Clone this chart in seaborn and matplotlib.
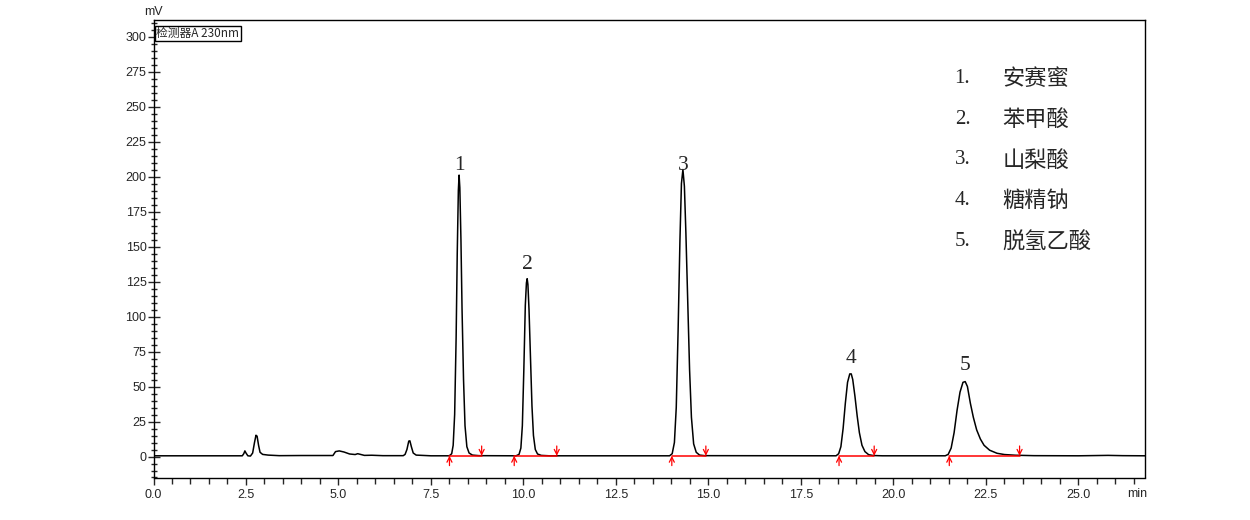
import numpy as np
import pandas as pd
import seaborn as sns
import matplotlib.pyplot as plt
from matplotlib.ticker import MultipleLocator, FormatStrFormatter

# chromatogram trace (time in min, signal in mV)
times = [0.0, 2.40, 2.44, 2.47, 2.50, 2.55, 2.62, 2.68, 2.73, 2.77, 2.80, 2.84, 2.88, 2.95, 3.1, 3.4,
         4.0, 4.85, 4.92, 5.02, 5.15, 5.30, 5.45, 5.52, 5.60, 5.70, 5.9, 6.2, 6.75,
         6.80, 6.85, 6.90, 6.93, 6.97, 7.02, 7.10, 7.5, 7.95,
         8.00, 8.06, 8.10, 8.14, 8.18, 8.21, 8.24, 8.26, 8.28, 8.31, 8.34, 8.38, 8.42, 8.47, 8.53, 8.62, 8.8,
         9.80, 9.88, 9.93, 9.97, 10.01, 10.05, 10.08, 10.10, 10.12, 10.15, 10.19, 10.23, 10.27, 10.32, 10.38, 10.48, 10.7,
         13.95, 14.02, 14.08, 14.13, 14.18, 14.23, 14.27, 14.31, 14.35, 14.39, 14.44, 14.49, 14.54, 14.60, 14.67, 14.76, 14.9,
         18.45, 18.52, 18.58, 18.64, 18.70, 18.76, 18.82, 18.86, 18.90, 18.96, 19.02, 19.08, 19.15, 19.23, 19.33, 19.45, 19.7,
         21.40, 21.48, 21.56, 21.64, 21.72, 21.80, 21.88, 21.94, 22.00, 22.08, 22.16, 22.25, 22.35, 22.45, 22.6, 22.8,
         23.0, 23.3, 23.8, 25.0, 25.8, 26.2, 26.8]
signal = [0.5, 0.5, 2.0, 4.0, 2.5, 0.5, 0.3, 2.5, 10, 15.2, 14.5, 8, 3, 1.5, 1.0, 0.6,
          0.7, 0.7, 3.5, 4.0, 3.2, 1.8, 1.4, 2.0, 1.5, 0.8, 0.9, 0.6, 0.6,
          1.5, 5, 11, 11.2, 7, 2.5, 1.0, 0.5, 0.5,
          0.6, 2, 8, 30, 85, 145, 190, 201, 192, 155, 105, 55, 22, 7, 2.5, 1.0, 0.6,
          0.5, 1.5, 6, 22, 62, 108, 124, 127, 123, 105, 70, 36, 15, 5, 1.8, 0.8, 0.5,
          0.5, 2, 10, 35, 90, 155, 195, 205, 193, 160, 110, 62, 28, 9, 3, 1.0, 0.6,
          0.5, 2, 7, 20, 38, 53, 59, 59, 55, 43, 29, 17, 8, 3.5, 1.3, 0.7, 0.5,
          0.5, 1.5, 6, 17, 33, 46, 53, 53.5, 50, 38, 28, 19, 12.5, 8, 4.5, 2.3,
          1.4, 0.9, 0.6, 0.5, 0.8, 0.6, 0.5]

# integration start / end times of each peak
peak_start = [8.00, 9.75, 14.01, 18.53, 21.51]
peak_end = [8.87, 10.90, 14.93, 19.48, 23.41]

# peak number labels
peak_ids = ['1', '2', '3', '4', '5']
label_t = [8.26, 10.10, 14.31, 18.86, 21.94]
label_y = [208, 137, 208, 70, 65]

compounds = ['安赛蜜', '苯甲酸', '山梨酸', '糖精钠', '脱氢乙酸']

sns.set_style('ticks')
plt.rcParams['font.family'] = ['Liberation Sans', 'Noto Sans CJK SC', 'DejaVu Sans']

fig = plt.figure(figsize=(12.5, 5.2), dpi=100)
ax = fig.add_axes([153.5 / 1250, 1 - 477.5 / 520, 991.5 / 1250, 457.5 / 520])

df = pd.DataFrame({'t': times, 'mV': signal})
sns.lineplot(data=df, x='t', y='mV', color='black', lw=1.1, ax=ax)

# integration baselines with start/end markers
arrow = dict(arrowstyle='->', color='red', lw=0.9, mutation_scale=9, shrinkA=0, shrinkB=0)
for s, e in zip(peak_start, peak_end):
    ax.plot([s, e], [0.5, 0.5], color='red', lw=1.1, zorder=3)
    ax.annotate('', xy=(s, 0.5), xytext=(s, -6.5), arrowprops=arrow)
    ax.annotate('', xy=(e, 0.5), xytext=(e, 7.5), arrowprops=arrow)

for pid, t, y in zip(peak_ids, label_t, label_y):
    ax.text(t, y, pid, ha='center', va='center', fontsize=15.5, family='Liberation Serif')

# compound list
for i, name in enumerate(compounds):
    yy = 0.873 - i * 0.0895
    ax.text(0.808, yy, f'{i + 1}.', transform=ax.transAxes, ha='left', va='center',
            fontsize=15, family='Liberation Serif')
    ax.text(0.856, yy, name, transform=ax.transAxes, ha='left', va='center',
            fontsize=16, family=['Noto Sans CJK SC', 'DejaVu Sans'])

ax.set_xlim(0, 26.8)
ax.set_ylim(-15, 311.8)
ax.xaxis.set_major_locator(MultipleLocator(2.5))
ax.xaxis.set_minor_locator(MultipleLocator(0.5))
ax.xaxis.set_major_formatter(FormatStrFormatter('%.1f'))
ax.yaxis.set_major_locator(MultipleLocator(25))
ax.yaxis.set_minor_locator(MultipleLocator(5))
ax.yaxis.set_major_formatter(FormatStrFormatter('%d'))
ax.tick_params(axis='x', which='major', direction='out', length=5, width=1, labelsize=9, pad=3)
ax.tick_params(axis='x', which='minor', direction='out', length=4, width=1)
ax.tick_params(axis='y', which='major', direction='inout', length=8, width=1, labelsize=9, pad=1)
ax.tick_params(axis='y', which='minor', direction='inout', length=5, width=1)
ax.set_xlabel('')
ax.set_ylabel('')
for sp in ax.spines.values():
    sp.set_color('black')
    sp.set_linewidth(1)

ax.text(0.992, -0.022, 'min', transform=ax.transAxes, ha='center', va='top', fontsize=9)
ax.text(0.0, 1.005, 'mV', transform=ax.transAxes, ha='center', va='bottom', fontsize=9)
ax.text(0.003, 0.985, '检测器A 230nm', transform=ax.transAxes, ha='left', va='top', fontsize=8.5,
        family=['Noto Sans CJK SC', 'DejaVu Sans'],
        bbox=dict(boxstyle='square,pad=0.1', facecolor='white', edgecolor='black', lw=1))

fig.savefig('out.png', dpi=100)
